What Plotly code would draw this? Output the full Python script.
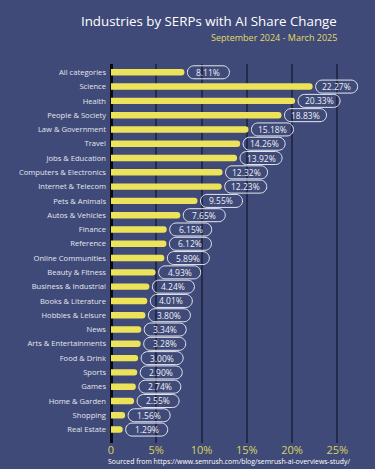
import plotly.graph_objects as go

categories = ["All categories", "Science", "Health", "People & Society", "Law & Government",
              "Travel", "Jobs & Education", "Computers & Electronics", "Internet & Telecom",
              "Pets & Animals", "Autos & Vehicles", "Finance", "Reference", "Online Communities",
              "Beauty & Fitness", "Business & Industrial", "Books & Literature", "Hobbies & Leisure",
              "News", "Arts & Entertainments", "Food & Drink", "Sports", "Games", "Home & Garden",
              "Shopping", "Real Estate"]
values = [8.11, 22.27, 20.33, 18.83, 15.18, 14.26, 13.92, 12.32, 12.23, 9.55, 7.65, 6.15, 6.12,
          5.89, 4.93, 4.24, 4.01, 3.80, 3.34, 3.28, 3.00, 2.90, 2.74, 2.55, 1.56, 1.29]
tick_vals = [0, 5, 10, 15, 20, 25]
tick_text = ["0", "5%", "10%", "15%", "20%", "25%"]

BG = "#3F4A79"
YELLOW = "#EDE35A"
GRID = "#232A4A"
FONT = "Open Sans, Lato, sans-serif"

W, H = 375, 469
L, R, T, B = 111, 15, 64, 26
pw, ph = W - L - R, H - T - B

fig = go.Figure()
fig.add_trace(go.Bar(
    x=values, y=categories, orientation="h",
    marker=dict(color=YELLOW, cornerradius=3, line=dict(width=0)),
    hoverinfo="skip",
))

n = len(categories)


def pill(w, h, dx):
    r = h / 2.0
    k = 0.5523 * r
    x0, x1 = dx, dx + w
    return (f"M {x0 + r},{-r} L {x1 - r},{-r} "
            f"C {x1 - r + k},{-r} {x1},{-k} {x1},0 "
            f"C {x1},{k} {x1 - r + k},{r} {x1 - r},{r} "
            f"L {x0 + r},{r} "
            f"C {x0 + r - k},{r} {x0},{k} {x0},0 "
            f"C {x0},{-k} {x0 + r - k},{-r} {x0 + r},{-r} Z")


shapes = []
annotations = []
for c, v in zip(categories, values):
    shapes.append(dict(
        type="path", xref="x", yref="y", xsizemode="pixel", ysizemode="pixel",
        xanchor=v, yanchor=c, path=pill(42, 13, 3),
        line=dict(color="#E6E8F0", width=1), fillcolor="rgba(0,0,0,0)", layer="above",
    ))
    annotations.append(dict(
        x=v, y=c, xref="x", yref="y", text=f"{v:.2f}%", showarrow=False,
        xanchor="center", xshift=24, font=dict(size=8.5, color="#F0F0F5", family=FONT),
    ))

extra = [
    dict(x=339, y=21, text="Industries by SERPs with AI Share Change",
         xanchor="right", font=dict(size=13.3, color="#FFFFFF", family=FONT)),
    dict(x=339, y=37, text="September 2024 - March 2025",
         xanchor="right", font=dict(size=9, color="#E3DB63", family=FONT)),
    dict(x=229, y=461,
         text="Sourced from https://www.semrush.com/blog/semrush-ai-overviews-study/",
         xanchor="center", font=dict(size=6.9, color="#FFFFFF", family=FONT)),
]
for a in extra:
    a.update(xref="paper", yref="paper", showarrow=False, yanchor="middle",
             x=(a["x"] - L) / pw, y=1 - (a["y"] - T) / ph)
    annotations.append(a)

fig.update_layout(
    width=W, height=H,
    margin=dict(l=L, r=R, t=T, b=B, autoexpand=False),
    paper_bgcolor=BG, plot_bgcolor=BG,
    showlegend=False,
    bargap=0.55,
    shapes=shapes,
    annotations=annotations,
    xaxis=dict(range=[0, 27.5], tickvals=tick_vals, ticktext=tick_text,
               showgrid=True, gridcolor=GRID, gridwidth=2, zeroline=True,
               zerolinecolor="#0A0A14", zerolinewidth=2.5,
               tickfont=dict(size=11, color="#D9D35C", family=FONT),
               ticks="", ticklabelstandoff=-1, automargin=False, fixedrange=True),
    yaxis=dict(range=[n - 1 + 0.94, -0.58], showgrid=False, zeroline=False,
               tickfont=dict(size=7.6, color="#E4E6EE", family=FONT),
               ticks="", ticklabelstandoff=4, automargin=False, fixedrange=True),
)

fig.write_html("out.html", config={"displayModeBar": False},
               post_script="document.body.style.margin='0';document.body.style.background='" + BG + "';")
